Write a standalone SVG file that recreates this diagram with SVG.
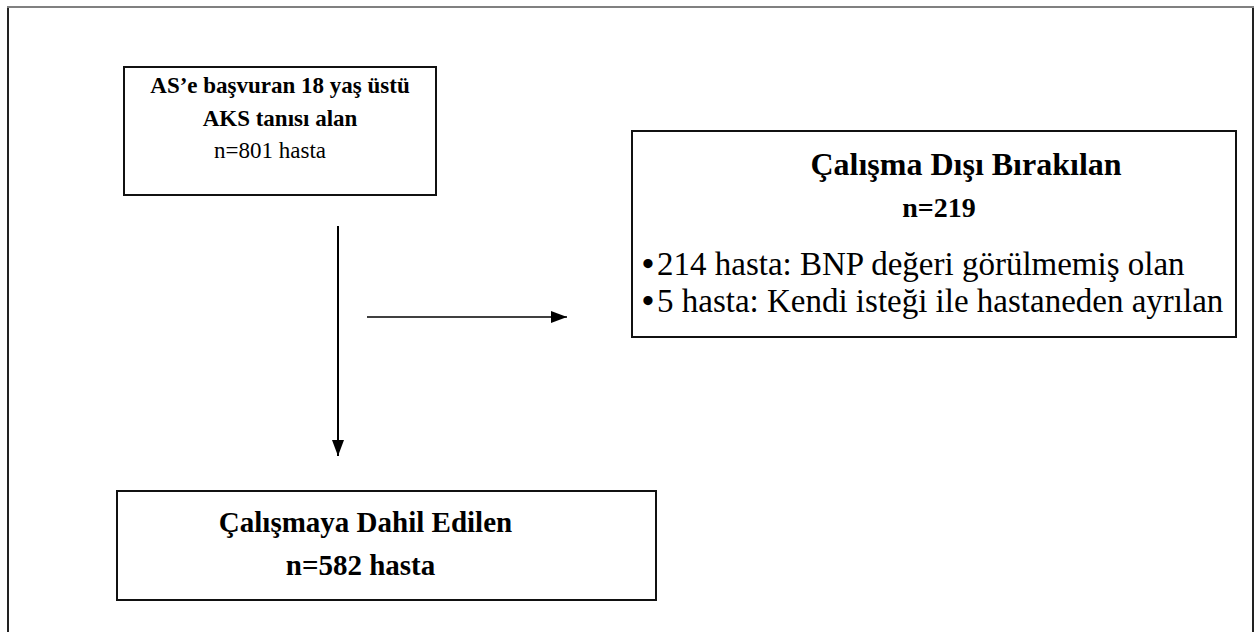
<svg xmlns="http://www.w3.org/2000/svg" width="1259" height="632" viewBox="0 0 1259 632">
<defs>
<style>
.box{fill:#fff;stroke:#111;stroke-width:2}
.f{font-family:"Liberation Serif","Times New Roman",serif;fill:#000}
.b23{font-weight:bold;font-size:23px}
.r23{font-size:23px}
.b32{font-weight:bold;font-size:32px}
.b28{font-weight:bold;font-size:28px}
.r33{font-size:33px}
.dot{font-size:34px;font-weight:bold}
.b29{font-weight:bold;font-size:29px}
.conn{stroke:#000;fill:none}
</style>
<marker id="ah" viewBox="0 0 16 12" refX="16" refY="6" markerWidth="16" markerHeight="12" markerUnits="userSpaceOnUse" orient="auto">
<path d="M0,0 L16,6 L0,12 Z" fill="#000"/>
</marker>
</defs>
<rect width="1259" height="632" fill="#fff"/>
<g id="frame">
<rect x="8" y="7" width="1245" height="640" fill="none" stroke="#222" stroke-width="2"/>
<line x1="7" y1="7" x2="1254" y2="7" stroke="#808080" stroke-width="2"/>
</g>
<g id="node-start">
<rect class="box" x="124" y="67" width="312" height="128"/>
<text class="f b23" x="280" y="93" text-anchor="middle">AS’e başvuran 18 yaş üstü</text>
<text class="f b23" x="280" y="126" text-anchor="middle">AKS tanısı alan</text>
<text class="f r23" x="270" y="158" text-anchor="middle">n=801 hasta</text>
</g>
<g id="node-excluded">
<rect class="box" x="632" y="131" width="604" height="206"/>
<text class="f b32" x="966" y="175" text-anchor="middle">Çalışma Dışı Bırakılan</text>
<text class="f b28" x="939" y="217" text-anchor="middle">n=219</text>
<text class="f r33" x="642" y="275"><tspan class="dot">•</tspan><tspan x="657">214 hasta: BNP değeri görülmemiş olan</tspan></text>
<text class="f r33" x="642" y="312"><tspan class="dot">•</tspan><tspan x="657">5 hasta: Kendi isteği ile hastaneden ayrılan</tspan></text>
</g>
<g id="node-included">
<rect class="box" x="117" y="491" width="539" height="109"/>
<text class="f b29" x="365.5" y="532" text-anchor="middle">Çalışmaya Dahil Edilen</text>
<text class="f b29" x="360.5" y="575" text-anchor="middle">n=582 hasta</text>
</g>
<g id="connectors">
<line class="conn" x1="338" y1="226" x2="338" y2="456" stroke-width="2" marker-end="url(#ah)"/>
<line class="conn" x1="367" y1="317" x2="567" y2="317" stroke-width="1.5" marker-end="url(#ah)"/>
</g>
</svg>
